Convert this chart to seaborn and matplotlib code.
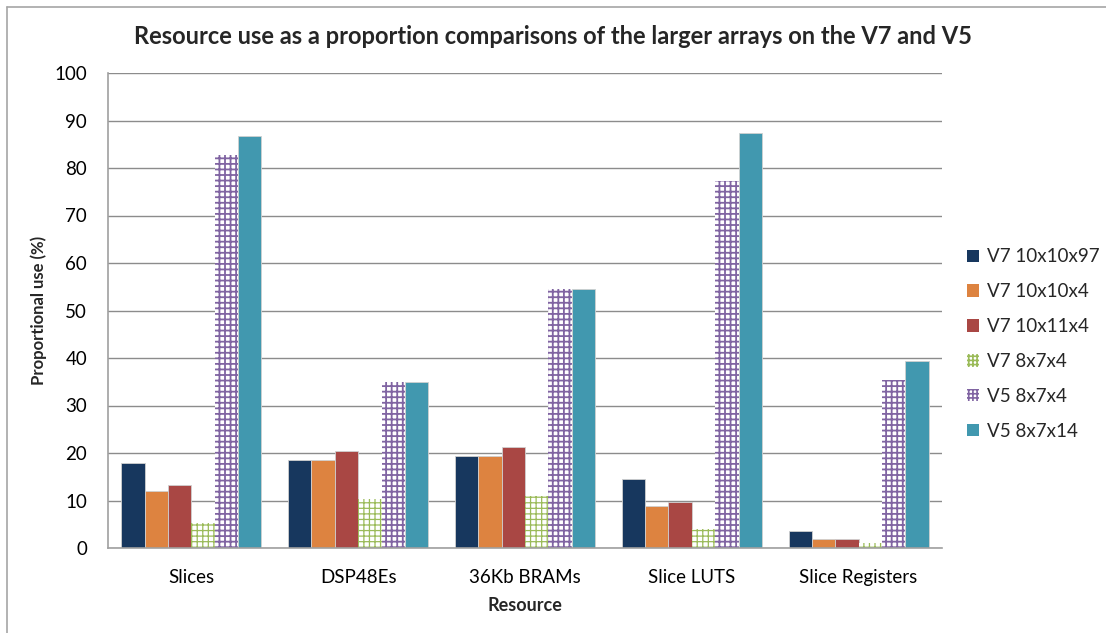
import matplotlib
matplotlib.use("Agg")
import matplotlib.pyplot as plt
from matplotlib.lines import Line2D
from matplotlib.patches import Patch
import pandas as pd
import seaborn as sns

RESOURCES = ["Slices", "DSP48Es", "36Kb BRAMs", "Slice LUTS", "Slice Registers"]
SERIES = ["V7 10x10x97", "V7 10x10x4", "V7 10x11x4", "V7 8x7x4", "V5 8x7x4", "V5 8x7x14"]

V7_10x10x97 = [17.8, 18.5, 19.4, 14.5, 3.6]
V7_10x10x4 = [12.0, 18.5, 19.3, 8.8, 1.8]
V7_10x11x4 = [13.3, 20.4, 21.3, 9.7, 1.9]
V7_8x7x4 = [5.3, 10.3, 10.9, 3.9, 1.1]
V5_8x7x4 = [82.7, 34.9, 54.5, 77.3, 35.4]
V5_8x7x14 = [86.8, 35.0, 54.6, 87.4, 39.4]

COLORS = ["#17375e", "#dd8340", "#a94744", "#9bbb59", "#8064a2", "#4198af"]
HATCHES = [None, None, None, "+++", "+++", None]
HATCH_LW = [None, None, None, 0.9, 1.3, None]

values = [V7_10x10x97, V7_10x10x4, V7_10x11x4, V7_8x7x4, V5_8x7x4, V5_8x7x14]
rows = []
for name, vals in zip(SERIES, values):
    for res, v in zip(RESOURCES, vals):
        rows.append({"Resource": res, "Series": name, "Value": v})
df = pd.DataFrame(rows)

sns.set_style("white")
plt.rcParams["font.family"] = ["Lato", "DejaVu Sans"]
plt.rcParams["hatch.linewidth"] = 1.2

fig = plt.figure(figsize=(11.06, 6.33), dpi=100)
ax = fig.add_axes([108 / 1106, 1 - 548 / 633, (942 - 108) / 1106, (548 - 73) / 633])

sns.barplot(data=df, x="Resource", y="Value", hue="Series", order=RESOURCES,
            hue_order=SERIES, palette=COLORS, width=0.84, gap=0,
            saturation=1, legend=False, ax=ax)


def style_hatched(patch, color, hatch, lw):
    patch.set_facecolor("white")
    patch.set_edgecolor(color)
    patch.set_hatch(hatch)
    patch.set_linewidth(0)
    if hasattr(patch, "set_hatch_linewidth"):
        patch.set_hatch_linewidth(lw)


# hatched series: white face, coloured grid
for cont, color, hatch, hlw in zip(ax.containers, COLORS, HATCHES, HATCH_LW):
    for bar in cont:
        if hatch:
            style_hatched(bar, color, hatch, hlw)
        else:
            bar.set_edgecolor("#d0d0d0")
            bar.set_linewidth(0.6)

ax.set_ylim(0, 100)
ax.set_yticks(range(0, 101, 10))
ax.set_xlim(-0.5, 4.5)
ax.grid(axis="y", color="#8c8c8c", linewidth=1.0)
ax.set_axisbelow(True)
for s in ["top", "right"]:
    ax.spines[s].set_visible(False)
for s in ["left", "bottom"]:
    ax.spines[s].set_color("#a0a0a0")
    ax.spines[s].set_linewidth(1.2)
ax.tick_params(axis="x", length=0, labelsize=13.5, colors="black", pad=15)
ax.tick_params(axis="y", length=0, labelsize=13.5, colors="black", pad=15)

ax.set_xlabel("Resource", fontsize=13, fontweight="bold", labelpad=8)
ax.set_ylabel("Proportional use (%)", fontsize=12, fontweight="bold", labelpad=5)
fig.text(0.5, 1 - 37 / 633, "Resource use as a proportion comparisons of the larger arrays on the V7 and V5",
         ha="center", va="center", fontsize=17, fontweight="bold")

handles = []
for color, hatch, hlw in zip(COLORS, HATCHES, HATCH_LW):
    if hatch:
        h = Patch(facecolor="white", edgecolor=color, hatch="++++", linewidth=0)
        if hasattr(h, "set_hatch_linewidth"):
            h.set_hatch_linewidth(hlw)
        handles.append(h)
    else:
        handles.append(Patch(facecolor=color, edgecolor="none"))
fig.legend(handles, SERIES, loc="center left", bbox_to_anchor=(950 / 1106, 1 - 344 / 633),
           frameon=False, fontsize=13.5, handlelength=0.65, handleheight=0.65,
           handletextpad=0.4, labelspacing=0.95)

# outer chart border (top and left edges visible)
fig.add_artist(Line2D([7 / 1106, 7 / 1106], [0, 1 - 7 / 633], color="#a6a6a6", linewidth=1.2))
fig.add_artist(Line2D([7 / 1106, 1], [1 - 7 / 633, 1 - 7 / 633], color="#a6a6a6", linewidth=1.2))

fig.savefig("out.png", dpi=100)
